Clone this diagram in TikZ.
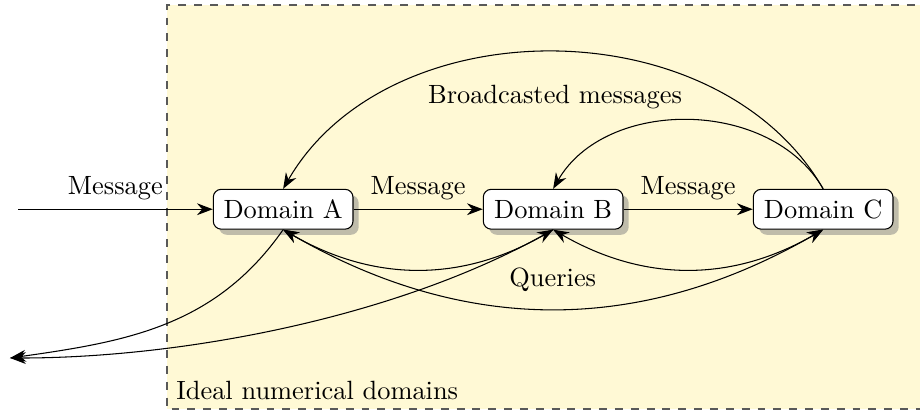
\documentclass[tikz,border=0pt]{standalone}
\usetikzlibrary{arrows.meta,shadows}
\definecolor{idealfill}{RGB}{255,249,213}
\begin{document}
\begin{tikzpicture}[>={Stealth[length=6pt,width=4.5pt,inset=2pt]},
		domainbox/.style={draw, fill=white, rounded corners=3pt, drop shadow, minimum width=1.86cm, minimum height=0.53cm}]
	\useasboundingbox (0,0) rectangle (12.25,5.486);
	\fill [idealfill] (2.224,0.04) rectangle (12.6,5.42);
	\draw [dashed, line width=0.6pt, color=black!65] (12.6,5.42) -- (2.224,5.42) -- (2.224,0.04) -- (12.6,0.04);
	\node [anchor=south west] (ideal) at (2.224,0.04) {Ideal numerical domains};
	\node [domainbox] (a) at (3.77,2.7) {Domain A};
	\node [domainbox] (b) at (7.365,2.7) {Domain B};
	\node [domainbox] (c) at (10.96,2.7) {Domain C};
	\coordinate (in) at (0.24,2.7);
	\coordinate (out) at (0.133,0.719);
	\draw [->] (in) -- (a) node [midway, above] (msgin) {Message};
	\draw [->] (a) -- (b) node [midway, above] (msgab) {Message};
	\draw [->] (b) -- (c) node [midway, above] (msgbc) {Message};
	\draw [->] (c.north) to [bend right=60] (a.north);
	\draw [->] (c.north) to [bend right=60] (b.north);
	\node (broadcast) at (7.39,4.19) {Broadcasted messages};
	\draw [<->] (a.south) to [bend right=30] (b.south);
	\draw [<->] (b.south) to [bend right=30] (c.south);
	\draw [<->] (a.south) to [bend right=30] (c.south);
	\node (queries) at (7.36,1.76) {Queries};
	\draw [->] (a.south) to [out=-125, in=8] (out);
	\draw [->] (b.south) to [out=-150, in=0, looseness=0.8] (out);
\end{tikzpicture}
\end{document}
